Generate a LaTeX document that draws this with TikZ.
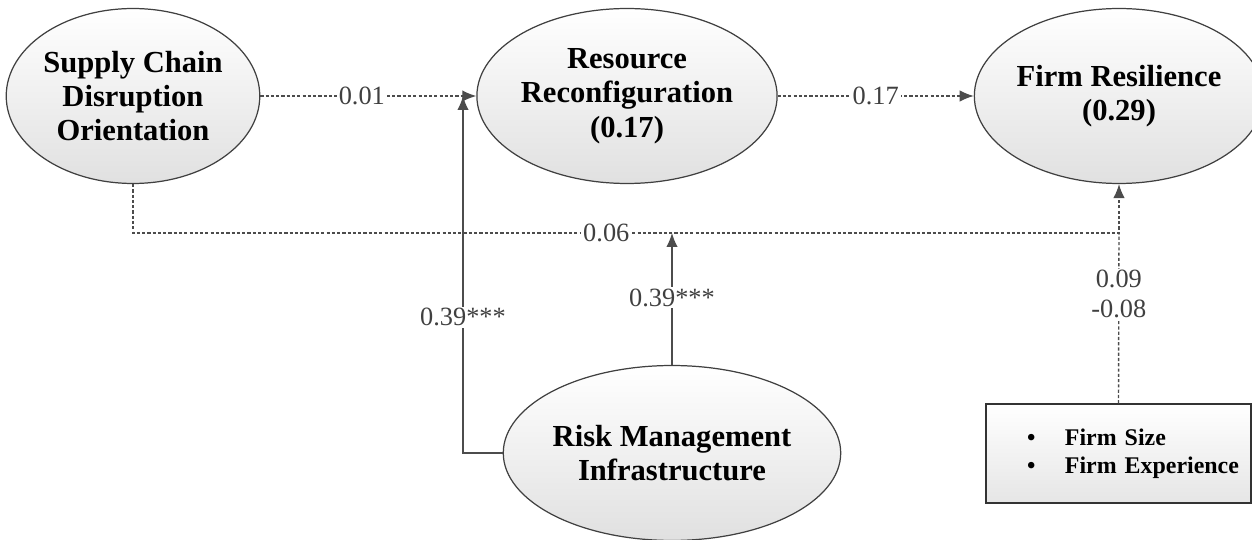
\documentclass[tikz,border=0pt]{standalone}
\usepackage{fontspec}
\setmainfont{Liberation Serif}
\usetikzlibrary{calc,positioning,arrows.meta,shapes.geometric}

\tikzset{
  construct/.style={ellipse, draw=black!75, line width=0.7pt, top color=white, bottom color=black!12,
    minimum width=5cm, minimum height=3.5cm, inner sep=0pt, align=center,
    font=\fontsize{17.4}{19.5}\selectfont\bfseries},
  ctrlbox/.style={rectangle, draw=black!80, line width=0.8pt, top color=white, bottom color=black!10,
    minimum height=1.98cm, inner sep=0pt, text width=5.3cm, align=left,
    font=\fontsize{13.6}{16}\selectfont\bfseries},
  coef/.style={fill=white, inner sep=1pt, text=black!75, font=\fontsize{15}{17}\selectfont},
  dotpath/.style={draw=black!70, line width=0.8pt, dash pattern=on 1.8pt off 1.2pt},
  solidpath/.style={draw=black!70, line width=0.8pt},
  tip/.style={-{Latex[length=0.28cm,width=0.23cm]}}
}

\begin{document}
\begin{tikzpicture}[x=0.02cm, y=-0.02cm]
\useasboundingbox (0,0) rectangle (1252,540);

% Constructs
\node[construct] (scdo) at (133,96) {Supply Chain\\Disruption\\Orientation};
\node[construct] (rr) at (627,96) {Resource\\Reconfiguration\\(0.17)};
\node[construct] (fr) at (1119,96) {Firm Resilience\\(0.29)};
\node[construct, minimum width=5.2cm] (rmi) at (672,453) {Risk Management\\Infrastructure};
\node[ctrlbox] (ctrl) at (1118.5,453.5) {\hspace*{0.82cm}\makebox[0.76cm][l]{\textbullet}Firm Size\\
  \hspace*{0.82cm}\makebox[0.76cm][l]{\textbullet}Firm Experience};

\coordinate (m1) at (463,96);
\coordinate (m2) at (672,233);
\coordinate (j) at (1119,233);

% Paths
\draw[dotpath, tip] (scdo.east) -- node[coef, pos=0.47] {0.01} (rr.west);
\draw[dotpath, tip] (rr.east) -- node[coef, pos=0.5] {0.17} (fr.west);
\draw[dotpath, tip] (scdo.south) |- node[coef, pos=0.74] {0.06} (j) -- (fr.south);
\draw[dotpath] (ctrl.north) -- node[coef, pos=0.64, align=center] {0.09\\-0.08} (j);

% Moderation
\draw[solidpath, tip] (rmi.west) -| node[coef, pos=0.69] {0.39***} (m1);
\draw[solidpath, tip] (rmi.north) -- node[coef, pos=0.51] {0.39***} (m2);

\end{tikzpicture}
\end{document}
